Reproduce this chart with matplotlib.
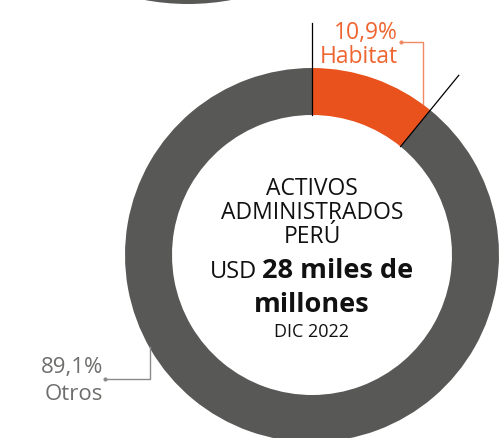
import matplotlib
matplotlib.use("Agg")
import matplotlib.pyplot as plt
import numpy as np

plt.rcParams['font.family'] = ['Open Sans', 'DejaVu Sans']

# datos
categorias = ["Habitat", "Otros"]
valores = [10.9, 89.1]
etiquetas = ["10,9%", "89,1%"]
colores = ["#e9511d", "#585857"]
titulo = ["ACTIVOS", "ADMINISTRADOS", "PERÚ"]
monto_pre = "USD"
monto = "28 miles de"
monto2 = "millones"
fecha = "DIC 2022"

W, H = 500, 439
fig = plt.figure(figsize=(W / 100, H / 100), dpi=100)
ax = fig.add_axes([0, 0, 1, 1])

# donut de arriba (cortado)
ax.pie([1], colors=["#585857"], radius=235, center=(188, H + 230),
       wedgeprops=dict(width=47, linewidth=0), frame=True)

# donut principal
cx, cy = 312, H - 256
R, ancho = 187, 47
ax.pie(valores, colors=colores, radius=R, center=(cx, cy), startangle=90,
       counterclock=False, wedgeprops=dict(width=ancho, linewidth=0), frame=True)
ax.set_xlim(0, W)
ax.set_ylim(0, H)
ax.set_aspect('equal')
ax.axis('off')

# lineas de separacion
limites = np.concatenate([[0], np.cumsum(valores)[:-1]])
for v in limites:
    ang = np.deg2rad(90 - v / sum(valores) * 360)
    r0, r1 = R - ancho, 232
    ax.plot([cx + r0 * np.cos(ang), cx + r1 * np.cos(ang)],
            [cy + r0 * np.sin(ang), cy + r1 * np.sin(ang)], color="black", lw=0.9)

# etiqueta Habitat
col_h = "#ef6530"
ax.text(398, H - 39, etiquetas[0], color=col_h, fontsize=16.5, ha='right', va='baseline')
ax.text(398, H - 63, categorias[0], color=col_h, fontsize=16.5, ha='right', va='baseline')
ax.plot([401, 423, 423], [H - 43, H - 43, H - 105], color="#f08a62", lw=1)
ax.plot([401], [H - 43], 'o', color="#f08a62", ms=2)

# etiqueta Otros
col_o = "#6e6e6d"
ax.text(103, H - 373, etiquetas[1], color=col_o, fontsize=16, ha='right', va='baseline')
ax.text(103, H - 400, categorias[1], color=col_o, fontsize=16, ha='right', va='baseline')
ax.plot([105, 150, 150], [H - 380, H - 380, H - 348], color="#8a8a8a", lw=1)
ax.plot([105], [H - 380], 'o', color="#8a8a8a", ms=2)

# texto central
for i, t in enumerate(titulo):
    ax.text(cx, H - (195 + i * 24), t, fontsize=16.5, ha='center', va='baseline',
            color="#111111")
ax.text(257, H - 278, monto_pre, fontsize=17, ha='right', va='baseline', color="#111111")
ax.text(262, H - 278, monto, fontsize=19.5, ha='left', va='baseline', color="#111111",
        fontweight='bold')
ax.text(cx, H - 312, monto2, fontsize=19.5, ha='center', va='baseline', color="#111111",
        fontweight='bold')
ax.text(cx, H - 337, fecha, fontsize=13, ha='center', va='baseline', color="#111111")

fig.savefig("out.png", dpi=100)
